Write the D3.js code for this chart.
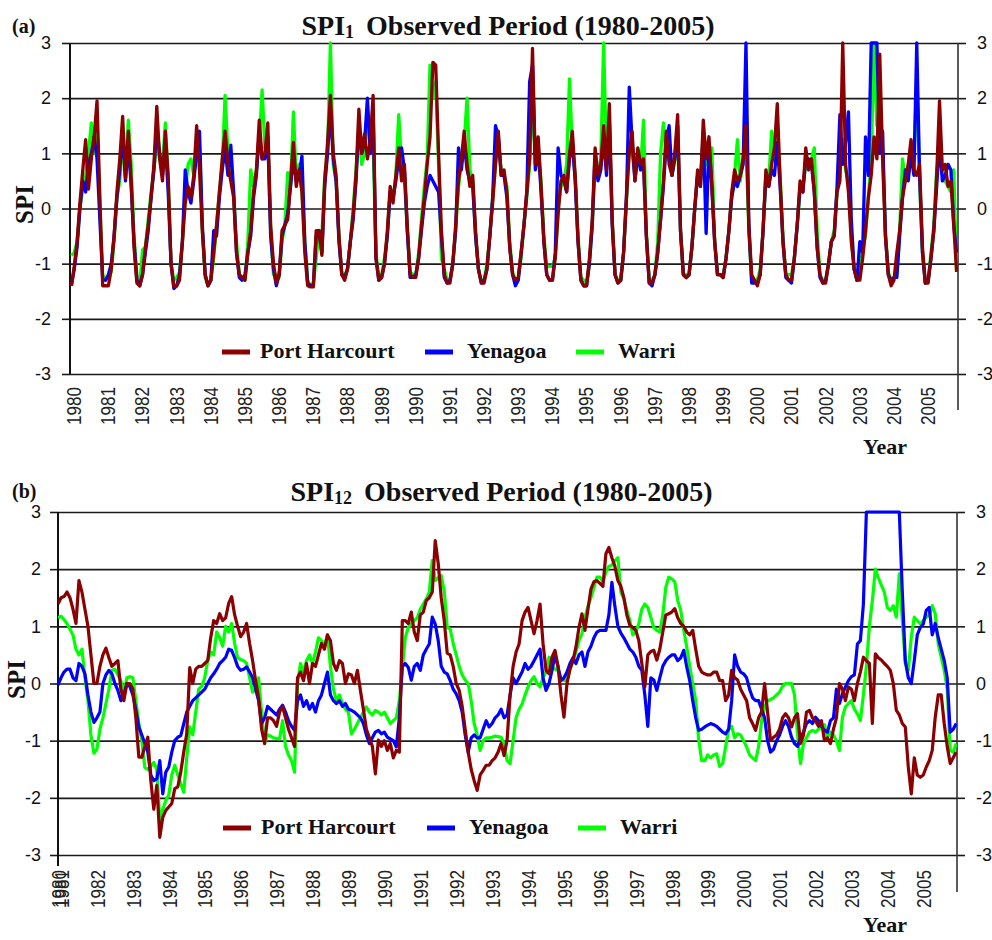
<!DOCTYPE html>
<html><head><meta charset="utf-8">
<script src="https://cdn.jsdelivr.net/npm/d3@7"></script>
<style>body{margin:0;background:#fff}svg{display:block}</style>
</head><body>
<svg id="c" width="992" height="940"></svg>
<script>
// ---------------- DATA ----------------
const seriesNames = ["Port Harcourt", "Yenagoa", "Warri"];
const yTicks = [3, 2, 1, 0, -1, -2, -3];
const yearsA = d3.range(1980, 2006);           // panel (a) tick labels (each January)
const yearsB = d3.range(1980, 2006);           // panel (b) tick labels (Dec 1980, then each January)

// Panel (a): SPI-1, monthly Jan 1980 .. Dec 2005
const spi1PortHarcourt = [
-1.40,-1.05,-0.60,0.10,0.70,1.25,0.35,0.90,1.30,1.95,0.20,-1.40,
-1.40,-1.40,-1.10,-0.50,0.30,0.90,1.67,0.55,1.40,0.50,-0.70,-1.35,
-1.40,-1.20,-0.70,-0.30,0.20,0.80,1.85,0.90,0.50,1.40,0.60,-1.00,
-1.42,-1.40,-1.30,-0.60,0.10,0.40,0.20,0.60,1.50,0.70,-0.40,-1.20,
-1.40,-1.30,-0.80,-0.30,0.30,0.90,1.40,0.80,0.50,0.20,-0.80,-1.20,
-1.25,-1.30,-0.80,-0.40,0.30,0.70,1.60,0.90,1.00,1.55,-0.30,-1.00,
-1.35,-1.20,-0.40,-0.30,-0.20,0.50,1.20,0.40,0.70,0.30,-0.80,-1.40,
-1.42,-1.42,-0.40,-0.40,-0.85,0.50,1.20,2.05,1.00,0.60,-0.50,-1.20,
-1.30,-1.10,-0.60,-0.10,0.60,1.80,1.00,1.35,0.90,1.20,2.05,-0.90,
-1.30,-1.25,-1.00,-0.40,0.40,0.10,0.60,1.10,0.50,0.80,-0.30,-1.20,
-1.25,-1.25,-0.90,-0.30,0.20,0.80,1.30,2.65,2.60,1.00,-0.40,-1.20,
-1.35,-1.35,-1.00,-0.30,0.50,0.90,1.40,0.80,0.40,0.60,-0.40,-1.10,
-1.35,-1.35,-1.10,-0.50,0.10,0.80,1.40,0.60,0.70,0.30,-0.70,-1.20,
-1.30,-1.25,-0.80,-0.30,0.30,0.90,2.90,0.80,1.30,0.40,-0.60,-1.20,
-1.30,-1.30,-0.90,-0.10,0.50,0.60,0.30,1.00,1.40,0.60,-0.60,-1.30,
-1.40,-1.40,-0.90,-0.20,1.10,0.60,0.80,1.50,0.70,1.90,-0.20,-1.20,
-1.35,-1.30,-0.80,0.20,1.00,1.40,0.50,1.10,0.80,0.90,-0.50,-1.35,
-1.35,-1.20,-0.80,-0.20,0.50,1.40,0.80,0.60,1.00,1.70,-0.40,-1.20,
-1.25,-1.20,-0.70,0.00,0.70,0.40,1.60,0.90,1.30,0.40,-0.60,-1.20,
-1.20,-1.25,-0.90,-0.40,0.30,0.70,0.50,0.60,0.90,1.50,-0.30,-1.20,
-1.30,-1.40,-1.20,-0.40,0.70,0.40,0.80,1.10,1.90,0.50,-0.60,-1.20,
-1.30,-1.30,-0.90,-0.30,0.50,0.30,1.10,0.70,0.90,0.30,-0.70,-1.20,
-1.35,-1.35,-1.00,-0.60,-0.50,0.30,0.50,3.00,0.80,0.30,-0.60,-1.10,
-1.30,-1.30,-0.90,-0.40,0.20,0.60,1.30,0.90,2.80,0.90,-0.50,-1.20,
-1.40,-1.30,-0.80,-0.40,0.20,0.50,0.80,1.25,0.70,0.60,0.80,-0.70,
-1.35,-1.35,-0.90,-0.40,0.60,1.95,0.70,0.80,0.40,0.50,-0.30,-1.15];

const spi1Yenagoa = [
-1.40,-1.10,-0.70,0.00,0.50,0.30,0.80,1.00,1.30,0.90,-0.20,-1.30,
-1.30,-1.20,-1.00,-0.50,0.20,0.70,1.40,0.50,1.20,0.40,-0.60,-1.30,
-1.40,-1.20,-0.80,-0.40,0.20,0.70,1.50,1.00,0.60,1.20,0.30,-1.00,
-1.45,-1.40,-1.20,-0.60,0.70,0.30,0.10,0.50,1.00,1.40,-0.30,-1.20,
-1.40,-1.30,-0.40,-0.50,0.20,0.70,1.10,0.60,1.15,0.30,-0.80,-1.25,
-1.30,-1.20,-0.80,-0.50,0.20,0.60,1.40,0.90,0.90,1.30,-0.50,-1.10,
-1.40,-1.20,-0.50,-0.30,-0.10,0.40,0.90,0.50,0.60,0.95,-0.60,-1.35,
-1.40,-1.40,-0.50,-0.40,-0.80,0.40,1.00,1.80,0.90,0.50,-0.60,-1.20,
-1.25,-1.10,-0.60,-0.20,0.50,1.50,1.00,1.20,2.00,1.00,1.80,-0.90,
-1.30,-1.25,-1.00,-0.50,0.30,0.20,0.50,0.90,1.10,0.70,-0.40,-1.25,
-1.25,-1.20,-0.90,-0.40,0.10,0.40,0.60,0.50,0.40,0.30,-0.50,-1.25,
-1.35,-1.30,-1.00,-0.40,1.10,0.70,1.20,0.70,0.50,0.40,-0.50,-1.10,
-1.35,-1.30,-1.10,-0.50,0.20,1.50,1.30,0.60,0.60,0.20,-0.70,-1.20,
-1.40,-1.30,-0.80,-0.30,0.30,2.30,2.60,0.70,1.10,0.30,-0.60,-1.20,
-1.30,-1.30,-0.80,1.10,0.60,0.50,0.30,0.90,1.20,0.50,-0.60,-1.30,
-1.40,-1.40,-1.00,-0.30,1.00,0.50,0.70,1.30,0.60,1.60,-0.30,-1.20,
-1.35,-1.30,-0.80,0.20,2.20,1.20,0.50,1.00,0.70,0.80,-0.50,-1.35,
-1.40,-1.20,-0.80,-0.20,0.40,1.20,1.50,0.60,0.90,1.50,-0.40,-1.20,
-1.25,-1.20,-0.70,0.00,0.60,0.40,1.40,-0.45,1.20,0.40,-0.60,-1.20,
-1.20,-1.25,-0.90,-0.40,0.20,0.50,0.40,0.60,0.80,3.00,-0.30,-1.35,
-1.35,-1.35,-1.20,-0.40,0.60,0.40,0.70,0.60,1.20,0.40,-0.60,-1.25,
-1.30,-1.35,-0.90,-0.30,0.40,0.30,0.90,0.90,0.80,0.30,-0.70,-1.25,
-1.35,-1.30,-1.00,-0.60,-0.50,0.40,1.70,0.80,1.20,1.75,-0.20,-1.10,
-1.30,-0.60,-0.80,1.30,0.60,3.00,3.00,3.00,1.00,1.40,-0.50,-1.20,
-1.30,-1.25,-1.25,-0.50,0.20,0.70,0.50,1.00,0.60,3.00,0.60,-0.80,
-1.35,-1.30,-0.90,-0.40,0.40,1.20,0.50,0.60,0.80,0.70,-0.30,-0.80];

const spi1Warri = [
-0.85,-0.80,-0.60,0.00,0.40,0.60,1.00,1.55,1.00,1.50,0.00,-1.20,
-1.30,-1.20,-1.15,-0.60,0.20,0.50,1.20,0.60,1.60,0.80,-0.50,-1.20,
-1.40,-0.75,-0.70,-0.20,0.30,0.70,1.20,0.90,0.80,1.55,0.50,-1.00,
-1.30,-1.25,-1.15,-0.60,0.30,0.80,0.90,0.60,1.00,1.20,-0.40,-1.25,
-1.40,-1.30,-0.90,-0.30,0.30,0.80,2.05,1.00,0.60,0.30,-0.60,-1.20,
-1.25,-1.30,-0.60,0.70,0.40,0.70,1.20,2.15,1.10,1.30,-0.40,-1.20,
-1.20,-1.25,-0.60,-0.30,0.65,0.40,1.75,0.50,0.80,0.30,-0.60,-1.30,
-1.40,-1.35,-0.90,-0.40,-0.50,0.60,1.00,3.00,0.80,0.50,-0.50,-1.20,
-1.20,-1.10,-0.60,0.00,0.70,1.40,0.80,1.00,1.60,1.30,1.20,-0.80,
-1.25,-1.20,-0.90,-0.50,0.30,0.20,0.60,1.70,0.80,0.60,-0.40,-1.15,
-1.20,-1.20,-0.80,-0.20,0.40,0.90,2.60,2.00,2.30,0.80,-0.90,-1.10,
-1.30,-1.30,-1.00,-0.40,0.40,0.80,1.20,2.00,0.70,0.50,-0.50,-1.10,
-1.30,-1.30,-1.00,-0.50,0.20,0.80,1.20,0.70,0.60,0.40,-0.60,-1.15,
-1.30,-1.25,-0.90,-0.30,0.20,0.80,1.90,1.00,1.10,0.50,-0.50,-1.05,
-1.05,-1.05,-0.90,0.00,0.40,0.50,0.80,2.35,1.10,0.60,-0.50,-1.25,
-1.30,-1.35,-1.00,-0.30,0.80,0.60,0.90,3.00,0.80,1.50,-0.20,-1.20,
-1.30,-1.30,-0.80,0.10,1.20,1.00,0.60,0.90,0.70,1.60,-0.40,-1.30,
-1.30,-1.20,-0.60,1.00,1.55,1.00,1.10,0.60,0.90,1.20,-0.40,-1.20,
-1.20,-1.20,-0.70,0.00,0.60,0.50,1.30,0.80,1.10,1.10,-0.60,-1.20,
-1.20,-1.20,-0.90,-0.40,0.20,0.60,1.25,0.50,0.90,1.20,-0.40,-1.30,
-1.30,-1.30,-1.10,-0.40,0.50,0.50,1.40,0.90,1.30,0.60,-0.50,-1.20,
-1.20,-1.20,-0.90,-0.30,0.30,0.40,0.80,0.70,0.90,1.10,-0.40,-1.20,
-1.30,-1.30,-1.00,-0.60,-0.40,0.30,0.60,1.25,0.70,0.50,-0.50,-1.10,
-1.30,-1.20,-0.70,-0.50,0.20,0.90,3.00,1.50,2.30,1.00,-0.40,-1.15,
-1.30,-1.25,-1.20,-0.40,0.90,0.50,0.60,1.10,0.90,2.35,0.50,-0.80,
-1.35,-1.30,-0.80,-0.30,0.70,1.00,0.60,0.50,0.40,0.30,0.70,-1.15];

// Panel (b): SPI-12, monthly Dec 1980 .. Dec 2005
const spi12PortHarcourt = [1.39,
1.5,1.52,1.6,1.5,1.3,1.05,1.8,1.6,1.3,1.0,0.5,0.0,
0.0,0.3,0.5,0.62,0.45,0.3,0.35,0.4,-0.1,-0.3,0.0,0.0,
-0.1,-0.6,-1.29,-1.29,-1.1,-0.94,-1.7,-2.2,-1.78,-2.69,-2.34,-2.22,
-2.16,-2.1,-1.84,-1.81,-1.55,-1.2,-0.88,0.28,0.0,0.25,0.3,0.3,
0.35,0.4,0.8,1.1,1.05,1.22,1.1,1.15,1.4,1.52,1.2,1.0,
0.82,0.9,1.05,0.7,0.4,0.05,-0.25,-0.8,-1.05,-0.6,-0.6,-0.65,
-0.75,-0.5,-0.4,-0.6,-0.8,-0.95,-1.1,0.1,0.2,0.05,0.35,0.0,
0.35,0.3,0.5,0.7,0.6,0.85,0.75,0.35,0.23,0.4,0.35,0.0,
0.17,0.15,0.0,0.23,-0.12,-0.45,-0.8,-0.95,-1.1,-1.58,-0.99,-1.1,
-1.0,-1.17,-1.05,-1.3,-1.17,-1.2,1.1,1.1,1.05,1.25,0.9,0.75,
1.2,1.25,1.45,1.5,1.6,2.5,2.1,1.5,1.1,0.53,0.5,0.3,
0.0,-0.12,-0.4,-0.8,-1.2,-1.5,-1.7,-1.87,-1.6,-1.52,-1.43,-1.43,
-1.35,-1.3,-1.2,-1.05,-1.26,-0.99,-0.2,0.3,0.55,0.69,1.1,1.25,
1.33,1.1,0.87,1.1,1.39,0.7,0.23,0.17,0.46,0.58,0.3,-0.2,
-0.59,0.0,0.25,0.4,0.64,0.98,1.22,0.93,1.3,1.65,1.78,1.8,
1.75,1.7,2.27,2.38,2.2,2.05,1.8,1.7,1.5,1.2,1.02,0.98,
0.93,0.75,0.35,-0.06,0.5,0.56,0.58,0.41,0.6,0.9,1.2,1.22,
1.25,1.31,1.15,1.05,1.0,0.9,0.85,0.93,0.6,0.3,0.2,0.17,
0.15,0.15,0.2,0.2,0.05,0.05,-0.3,-0.2,0.23,0.1,0.06,-0.1,
-0.2,-0.3,-0.6,-0.7,-0.82,-0.6,-0.5,0.0,-0.5,-1.0,-0.94,-0.9,
-0.8,-0.6,-0.53,-0.6,-0.76,-0.6,-0.53,-1.05,-0.9,-0.5,-0.47,-0.6,
-0.65,-0.75,-0.65,-1.0,-0.95,-1.05,-0.8,-0.6,0.0,-0.1,-0.3,-0.06,
-0.1,-0.3,0.0,0.2,0.46,0.4,0.35,-0.7,0.52,0.45,0.41,0.35,
0.3,0.23,0.0,-0.47,-0.55,-0.7,-0.76,-1.46,-1.93,-1.3,-1.6,-1.64,
-1.6,-1.46,-1.35,-1.17,-0.59,-0.2,-0.2,-0.7,-1.1,-1.4,-1.3,-1.2];

const spi12Yenagoa = [-0.03,
0.1,0.2,0.25,0.25,0.1,0.05,0.35,0.3,0.17,-0.2,-0.5,-0.68,
-0.6,-0.5,0.0,0.15,0.23,0.17,0.0,-0.12,-0.3,-0.2,0.0,-0.05,
-0.2,-0.45,-0.76,-0.9,-1.05,-1.2,-1.6,-1.7,-1.67,-1.35,-1.93,-1.55,
-1.46,-1.2,-1.0,-0.94,-0.91,-0.7,-0.5,-0.4,-0.3,-0.25,-0.2,-0.15,
-0.1,0.0,0.1,0.17,0.25,0.35,0.4,0.46,0.6,0.58,0.45,0.3,
0.23,0.25,0.29,0.2,0.1,-0.1,-0.3,-0.7,-0.6,-0.4,-0.45,-0.5,
-0.55,-0.45,-0.38,-0.5,-0.65,-0.75,-0.82,-0.3,-0.2,-0.4,-0.3,-0.45,
-0.35,-0.5,-0.3,-0.2,0.0,0.2,-0.2,-0.3,-0.35,-0.3,-0.4,-0.35,
-0.45,-0.47,-0.5,-0.55,-0.6,-0.7,-0.9,-1.05,-0.95,-0.85,-0.82,-0.88,
-0.85,-0.94,-0.97,-1.0,-1.11,-0.6,0.3,0.35,0.28,0.06,0.3,0.35,
0.23,0.5,0.6,0.69,1.16,1.04,0.75,0.3,0.2,0.17,0.05,-0.1,
-0.18,-0.3,-0.5,-0.9,-1.2,-0.95,-0.9,-0.95,-0.95,-0.8,-0.65,-0.76,
-0.7,-0.6,-0.55,-0.45,-0.6,-0.55,-0.2,0.1,0.0,0.1,0.2,0.35,
0.25,0.3,0.4,0.5,0.6,0.1,-0.12,0.0,0.23,0.5,0.3,0.05,
0.1,0.2,0.35,0.45,0.35,0.5,0.55,0.3,0.55,0.65,0.8,0.9,
0.93,0.93,0.93,1.2,1.77,1.35,1.0,0.88,0.8,0.7,0.6,0.55,
0.46,0.3,0.23,-0.2,-0.75,0.1,0.06,-0.12,0.1,0.3,0.4,0.46,
0.5,0.5,0.4,0.45,0.58,0.29,0.05,-0.3,-0.6,-0.82,-0.8,-0.76,
-0.73,-0.7,-0.72,-0.75,-0.8,-0.85,-0.88,-0.8,-0.3,0.5,0.3,0.2,
0.17,0.1,-0.1,-0.25,-0.3,-0.3,-0.45,-0.6,-1.0,-1.2,-1.15,-1.0,
-0.9,-0.75,-0.65,-0.75,-0.94,-1.05,-1.1,-0.95,-0.85,-0.7,-0.65,-0.7,
-0.59,-0.65,-0.75,-0.82,-0.85,-0.65,-0.6,-0.1,-0.35,-0.18,-0.06,0.05,
0.12,0.15,0.69,0.75,1.39,3.0,3.0,3.0,3.0,3.0,3.0,3.0,
3.0,3.0,3.0,3.0,3.0,1.6,0.4,0.1,0.0,0.4,0.85,0.98,
1.04,1.28,1.33,0.85,1.05,0.8,0.6,0.4,0.1,-0.85,-0.8,-0.7];

const spi12Warri = [1.15,
1.18,1.12,1.05,0.95,0.85,0.6,0.5,0.6,0.1,-0.3,-0.9,-1.22,
-1.15,-0.8,-0.6,-0.35,-0.1,0.23,0.25,0.15,0.05,-0.2,0.1,0.12,
0.1,-0.3,-0.7,-1.0,-1.47,-1.5,-1.45,-1.38,-1.5,-2.39,-2.2,-2.05,
-1.95,-1.6,-1.43,-1.6,-1.75,-1.9,-1.3,-0.76,-0.9,-0.5,-0.1,-0.05,
0.1,0.4,0.55,0.5,0.9,0.8,0.65,1.0,0.9,1.05,0.7,0.45,
0.42,0.4,0.35,0.1,-0.15,-0.1,0.1,-0.5,-1.05,-0.9,-0.92,-0.95,
-0.96,-0.97,-0.65,-1.1,-1.25,-1.35,-1.55,0.0,0.35,0.2,0.4,0.5,
0.35,0.55,0.8,0.75,0.65,0.85,0.3,-0.1,-0.3,-0.2,-0.35,-0.45,
-0.5,-0.88,-0.8,-0.7,-0.6,-0.5,-0.41,-0.5,-0.55,-0.47,-0.5,-0.55,
-0.5,-0.6,-0.7,-0.65,-0.6,-0.3,0.25,0.81,0.98,1.05,1.1,1.15,
1.3,1.39,1.48,1.6,2.15,1.8,1.85,1.89,1.62,0.98,0.95,0.7,
0.5,0.3,0.15,0.06,0.0,-0.3,-0.7,-0.9,-1.17,-1.0,-0.95,-0.95,
-0.94,-0.92,-0.93,-0.94,-1.05,-1.35,-1.4,-1.0,-0.6,-0.45,-0.36,-0.2,
-0.06,0.05,0.12,0.0,-0.06,0.1,0.2,0.46,0.3,0.25,0.23,0.1,
0.05,0.06,0.25,0.4,0.55,0.75,0.87,1.15,1.35,1.5,1.68,1.86,
1.86,1.78,1.95,2.05,2.07,2.15,2.2,1.6,1.48,1.28,1.1,0.85,
0.9,1.05,1.3,1.39,1.33,1.16,0.98,0.93,0.9,1.2,1.68,1.86,
1.83,1.78,1.45,1.28,0.93,0.64,0.3,0.0,-0.3,-0.99,-1.35,-1.35,
-1.25,-1.3,-1.25,-1.23,-1.45,-1.4,-1.1,-0.8,-0.75,-0.95,-0.88,-0.9,
-1.0,-1.11,-1.25,-1.3,-1.35,-1.11,-0.65,-0.41,-0.3,-0.28,-0.25,-0.2,
-0.15,-0.05,0.0,0.0,0.0,-0.2,-0.9,-1.4,-1.05,-0.95,-0.85,-0.82,
-0.85,-0.8,-0.76,-0.72,-0.94,-0.85,-0.9,-1.0,-1.17,-0.59,-0.41,-0.35,
-0.3,-0.45,-0.53,-0.65,-0.2,0.3,1.0,1.45,2.0,1.85,1.72,1.6,
1.33,1.28,1.36,1.16,1.92,1.1,0.35,0.23,0.81,1.16,1.1,1.04,
1.1,1.16,1.2,1.36,1.22,0.69,0.46,0.23,-0.1,-1.17,-1.2,-1.05];

// ---------------- STYLE / LAYOUT ----------------
const colors = {"Port Harcourt": "#8b0000", "Yenagoa": "#0000ff", "Warri": "#00ff00"};
const drawOrder = ["Warri", "Yenagoa", "Port Harcourt"];
const serif = "'Liberation Serif','Times New Roman',serif";
const sans = "'Liberation Sans',Arial,sans-serif";

const panels = [
  {
    tag: "(a)", sub: "1", left: 70, right: 958, yTop: 43, yBot: 374,
    x0: 71.4, x1: 956.6, n: 312, tickIdx: yearsA.map((y, k) => 12 * k), tickLab: yearsA,
    labShift: 2, labTop: 387, leftBottom: 374, rightBottom: 410,
    titleY: 35, tagY: 33, spiX: 25, yearY: 454, legY: 352, lineW: 3.3,
    series: {"Port Harcourt": spi1PortHarcourt, "Yenagoa": spi1Yenagoa, "Warri": spi1Warri},
    leftPad: 11, legX: [222, 425, 576]
  },
  {
    tag: "(b)", sub: "12", left: 58, right: 957, yTop: 512, yBot: 855,
    x0: 58, x1: 956.2, n: 301, tickIdx: yearsB.map((y, k) => k === 0 ? 0 : 1 + 12 * (k - 1)), tickLab: yearsB,
    labShift: 0, labTop: 870, leftBottom: 866, rightBottom: 892,
    titleY: 501, tagY: 498, spiX: 17, yearY: 932, legY: 828, lineW: 3.2,
    series: {"Port Harcourt": spi12PortHarcourt, "Yenagoa": spi12Yenagoa, "Warri": spi12Warri},
    leftPad: 9, legX: [223, 427, 578]
  }
];

const svg = d3.select("#c");

panels.forEach((p, pi) => {
  const x = d3.scaleLinear().domain([0, p.n - 1]).range([p.x0, p.x1]);
  const y = d3.scaleLinear().domain([-3, 3]).range([p.yBot, p.yTop]);
  const g = svg.append("g");

  // gridlines
  g.append("g").attr("transform", `translate(${p.left},0)`)
    .call(d3.axisLeft(y).tickValues(yTicks).tickSize(-(p.right - p.left)).tickSizeOuter(0).tickFormat(""))
    .call(s => s.select(".domain").remove())
    .selectAll("line").attr("stroke", "#1a1a1a").attr("stroke-width", 1.6);

  // left axis ticks + labels
  const la = g.append("g").attr("transform", `translate(${p.left},0)`)
    .call(d3.axisLeft(y).tickValues(yTicks).tickSize(8).tickSizeOuter(0).tickPadding(p.leftPad).tickFormat(d => String(d)));
  la.select(".domain").remove();
  la.selectAll("line").attr("stroke", "#1a1a1a").attr("stroke-width", 1.6);
  la.selectAll("text").attr("font-family", sans).attr("font-size", 18).attr("fill", "#111");

  // right axis ticks + labels
  const ra = g.append("g").attr("transform", `translate(${p.right},0)`)
    .call(d3.axisRight(y).tickValues(yTicks).tickSize(8).tickSizeOuter(0).tickPadding(11).tickFormat(d => String(d)));
  ra.select(".domain").remove();
  ra.selectAll("line").attr("stroke", "#1a1a1a").attr("stroke-width", 1.6);
  ra.selectAll("text").attr("font-family", sans).attr("font-size", 18).attr("fill", "#111");

  // vertical axis lines
  g.append("line").attr("x1", p.left).attr("x2", p.left).attr("y1", y(3)).attr("y2", p.leftBottom)
    .attr("stroke", "#111").attr("stroke-width", 2);
  g.append("line").attr("x1", p.right).attr("x2", p.right).attr("y1", y(3)).attr("y2", p.rightBottom)
    .attr("stroke", "#333").attr("stroke-width", 1.6);

  // x labels (rotated)
  const xa = g.append("g").attr("transform", `translate(${p.labShift},${p.labTop})`)
    .call(d3.axisBottom(x).tickValues(p.tickIdx).tickSize(0).tickFormat((d, i) => String(p.tickLab[i])));
  xa.select(".domain").remove();
  xa.selectAll("text").attr("font-family", sans).attr("font-size", 18).attr("fill", "#222")
    .attr("x", 0).attr("y", 0).attr("dy", "0.36em").attr("text-anchor", "end")
    .attr("transform", "rotate(-90) scale(0.95,1.12)");

  // clip
  const cid = "clip" + pi;
  svg.append("clipPath").attr("id", cid).append("rect")
    .attr("x", p.left).attr("y", p.yTop - 3).attr("width", p.right - p.left).attr("height", p.yBot - p.yTop + 6);

  // lines
  const line = d3.line().x((d, i) => x(i)).y(d => y(Math.max(-3, Math.min(3, d))));
  const lg = g.append("g").attr("clip-path", `url(#${cid})`);
  drawOrder.forEach(name => {
    lg.append("path").datum(p.series[name]).attr("d", line)
      .attr("fill", "none").attr("stroke", colors[name]).attr("stroke-width", p.lineW)
      .attr("stroke-linejoin", "round");
  });

  // legend
  seriesNames.forEach((name, k) => {
    const lx = p.legX[k];
    g.append("line").attr("x1", lx).attr("x2", lx + 28).attr("y1", p.legY).attr("y2", p.legY)
      .attr("stroke", colors[name]).attr("stroke-width", 5);
    g.append("text").attr("x", lx + 38 + (k === 0 ? 0 : 4)).attr("y", p.legY + 6)
      .attr("font-family", serif).attr("font-weight", "bold").attr("font-size", 22).attr("fill", "#111")
      .text(name);
  });

  // title
  const t = g.append("text").attr("x", p.left + (p.right - p.left) / 2 - 6).attr("y", p.titleY)
    .attr("text-anchor", "middle").attr("font-family", serif).attr("font-weight", "bold")
    .attr("font-size", 28).attr("fill", "#111");
  t.append("tspan").text("SPI");
  t.append("tspan").attr("font-size", 18).attr("dy", 3).text(p.sub);
  t.append("tspan").attr("dy", -3).attr("dx", 12).text("Observed Period (1980-2005)");

  // panel tag
  g.append("text").attr("x", 12).attr("y", p.tagY).attr("font-family", serif).attr("font-weight", "bold")
    .attr("font-size", 20).attr("fill", "#111").text(p.tag);

  // y axis title
  g.append("text").attr("transform", `translate(${p.spiX + 8},${y(0) - 4}) rotate(-90)`)
    .attr("text-anchor", "middle").attr("font-family", serif).attr("font-weight", "bold")
    .attr("font-size", 25).attr("fill", "#111").text("SPI");

  // x axis title
  g.append("text").attr("x", 863).attr("y", p.yearY).attr("font-family", serif).attr("font-weight", "bold")
    .attr("font-size", 22).attr("fill", "#111").text("Year");
});
</script>
</body></html>
